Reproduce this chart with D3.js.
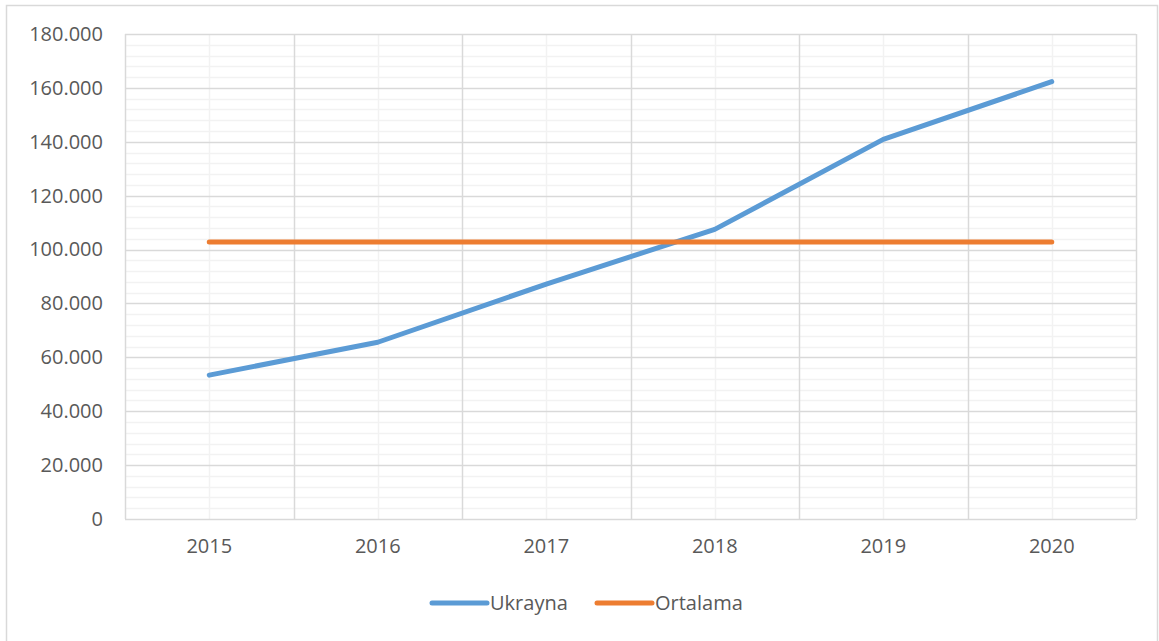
<!DOCTYPE html>
<html>
<head>
<meta charset="utf-8">
<script src="https://cdn.jsdelivr.net/npm/d3@7"></script>
<style>
  html, body { margin: 0; padding: 0; background: #fff; }
  svg text { font-family: "Open Sans", "Noto Sans", sans-serif; fill: #595959; }
</style>
</head>
<body>
<svg id="chart" width="1159" height="641"></svg>
<script>
const years = ["2015", "2016", "2017", "2018", "2019", "2020"];
const ukrayna = [53400, 65600, 87200, 107500, 140900, 162300];
const ortalama = [102800, 102800, 102800, 102800, 102800, 102800];
const yTicks = [0, 20000, 40000, 60000, 80000, 100000, 120000, 140000, 160000, 180000];
const seriesNames = ["Ukrayna", "Ortalama"];
const seriesColors = ["#5B9BD5", "#ED7D31"];

const svg = d3.select("#chart");
const pLeft = 125, pRight = 1136, pTop = 34, pBottom = 519;

// outer chart border
svg.append("rect").attr("x", 6.5).attr("y", 5.5).attr("width", 1151).attr("height", 640)
  .attr("fill", "#fff").attr("stroke", "#d9d9d9").attr("stroke-width", 1.5);

const x = d3.scaleBand().domain(years).range([pLeft, pRight]).paddingInner(0).paddingOuter(0);
const y = d3.scaleLinear().domain([0, 180000]).range([pBottom, pTop]);
const cx = d => x(d) + x.bandwidth() / 2;

const g = svg.append("g");

// minor horizontal gridlines
const minor = d3.range(0, 180001, 4000).filter(v => v % 20000 !== 0);
g.selectAll("line.hmin").data(minor).join("line")
  .attr("x1", pLeft).attr("x2", pRight)
  .attr("y1", d => Math.round(y(d)) + 0.5).attr("y2", d => Math.round(y(d)) + 0.5)
  .attr("stroke", "#f2f2f2").attr("stroke-width", 1.5);

// minor vertical gridlines at category centers
g.selectAll("line.vmin").data(years).join("line")
  .attr("x1", d => Math.round(cx(d)) + 0.5).attr("x2", d => Math.round(cx(d)) + 0.5)
  .attr("y1", pTop).attr("y2", pBottom)
  .attr("stroke", "#f2f2f2").attr("stroke-width", 1.5);

// major horizontal gridlines
g.selectAll("line.hmaj").data(yTicks).join("line")
  .attr("x1", pLeft).attr("x2", pRight)
  .attr("y1", d => Math.round(y(d)) + 0.5).attr("y2", d => Math.round(y(d)) + 0.5)
  .attr("stroke", "#d9d9d9").attr("stroke-width", 1.5);

// major vertical gridlines at category boundaries
const bounds = years.map(d => x(d)).concat([pRight]);
g.selectAll("line.vmaj").data(bounds).join("line")
  .attr("x1", d => Math.round(d) + 0.5).attr("x2", d => Math.round(d) + 0.5)
  .attr("y1", pTop).attr("y2", pBottom)
  .attr("stroke", "#d9d9d9").attr("stroke-width", 1.5);

// y axis labels
const yAxis = d3.axisLeft(y).tickValues(yTicks).tickSize(0).tickPadding(22)
  .tickFormat(d => d === 0 ? "0" : d3.format(",")(d).replace(/,/g, "."));
const ya = svg.append("g").attr("transform", `translate(${pLeft},0)`).call(yAxis);
ya.select(".domain").remove();
ya.selectAll("text").style("font-size", "20px").attr("fill", "#595959");

// x axis labels
const xAxis = d3.axisBottom(x).tickSize(0).tickPadding(20);
const xa = svg.append("g").attr("transform", `translate(0,${pBottom})`).call(xAxis);
xa.select(".domain").remove();
xa.selectAll("text").style("font-size", "20px").attr("fill", "#595959");

// lines
const line = d3.line().x((d, i) => cx(years[i])).y(d => y(d));
[ukrayna, ortalama].forEach((s, i) => {
  svg.append("path").datum(s).attr("d", line)
    .attr("fill", "none").attr("stroke", seriesColors[i]).attr("stroke-width", 5)
    .attr("stroke-linecap", "round").attr("stroke-linejoin", "round");
});

// legend
const legendX = [432, 597];
const lg = svg.append("g");
seriesNames.forEach((n, i) => {
  lg.append("line").attr("x1", legendX[i]).attr("x2", legendX[i] + 55)
    .attr("y1", 603).attr("y2", 603)
    .attr("stroke", seriesColors[i]).attr("stroke-width", 5).attr("stroke-linecap", "round");
  lg.append("text").attr("x", legendX[i] + 58).attr("y", 603).attr("dy", "0.35em")
    .style("font-size", "20px").text(n);
});
</script>
</body>
</html>
